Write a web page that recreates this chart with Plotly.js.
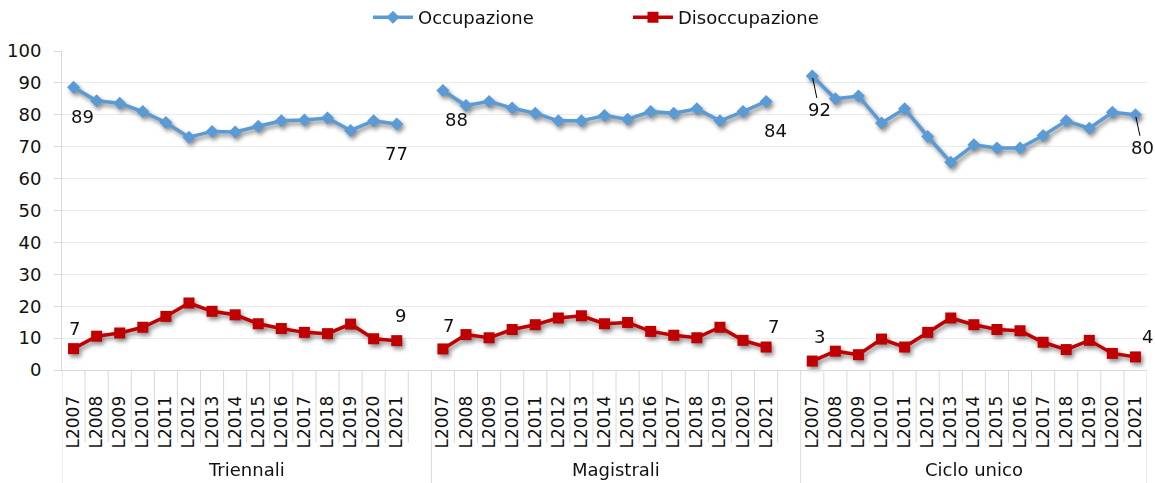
<!DOCTYPE html>
<html>
<head>
<meta charset="utf-8">
<script src="https://cdn.plot.ly/plotly-3.0.1.min.js"></script>
<style>
  html, body { margin: 0; padding: 0; background: #fff; }
  #chart { width: 1155px; height: 483px; }
  .js-plotly-plot .scatterlayer .trace { filter: drop-shadow(2px 3px 2px rgba(0,0,0,0.45)); }
</style>
</head>
<body>
<div id="chart"></div>
<script>
// ---- data ----
var groups = ['Triennali', 'Magistrali', 'Ciclo unico'];
var years = ['L2007','L2008','L2009','L2010','L2011','L2012','L2013','L2014','L2015','L2016','L2017','L2018','L2019','L2020','L2021'];

var occTriennali  = [88.6, 84.4, 83.6, 81.0, 77.6, 73.0, 74.8, 74.6, 76.4, 78.1, 78.4, 79.0, 75.1, 78.1, 77.1];
var occMagistrali = [87.6, 82.9, 84.2, 82.1, 80.5, 78.1, 78.1, 79.8, 78.6, 81.0, 80.5, 81.9, 78.1, 81.0, 84.2];
var occCiclo      = [92.2, 85.0, 85.9, 77.4, 81.9, 73.2, 65.1, 70.6, 69.6, 69.6, 73.5, 78.1, 75.8, 80.8, 80.0];

var disTriennali  = [6.7, 10.6, 11.6, 13.4, 16.8, 21.0, 18.4, 17.3, 14.5, 13.0, 11.8, 11.4, 14.4, 9.8, 9.2];
var disMagistrali = [6.6, 11.1, 10.1, 12.7, 14.2, 16.3, 17.0, 14.5, 14.9, 12.1, 10.9, 10.1, 13.4, 9.3, 7.2];
var disCiclo      = [2.8, 5.9, 4.8, 9.7, 7.2, 11.8, 16.3, 14.2, 12.7, 12.3, 8.7, 6.4, 9.3, 5.2, 4.1];

var seriesNames = ['Occupazione', 'Disoccupazione'];

// ---- styles ----
var FONT = 'DejaVu Sans, sans-serif';
var TXT = '#111111';
var AXC = '#d9d9d9';
var colors = ['#5B9BD5', '#C00000'];
var symbols = ['diamond', 'square'];
var msize = [10, 11];

// label offsets [dx, dy(px, down positive), leader]
var labelStyle = [
  [ [[9,29,false],[0,29,false]], [[14,29,false],[9,29,false]], [[7,34,true],[7,33,true]] ],
  [ [[1,-20,false],[4,-25,false]], [[6,-23,false],[7,-21,false]], [[7,-25,false],[12,-20,false]] ]
];

// ---- build categories ----
var occ = [occTriennali, occMagistrali, occCiclo];
var dis = [disTriennali, disMagistrali, disCiclo];
var cats = [], tickText = [], occY = [], disY = [];
var groupStart = [], groupEnd = [];
groups.forEach(function (g, gi) {
  groupStart.push(cats.length);
  years.forEach(function (yr, yi) {
    cats.push(g + ' ' + yr);
    tickText.push(yr);
    occY.push(occ[gi][yi]);
    disY.push(dis[gi][yi]);
  });
  if (gi < groups.length - 1) {
    cats.push(g + ' gap');
    tickText.push('');
    occY.push(null);
    disY.push(null);
  }
  groupEnd.push(cats.length);
});

var allY = [occY, disY];
var traces = seriesNames.map(function (nm, si) {
  return {
    type: 'scatter', mode: 'lines+markers', name: nm,
    x: cats, y: allY[si], connectgaps: false,
    line: { color: colors[si], width: 3.5 },
    marker: { color: colors[si], symbol: symbols[si], size: msize[si] },
    cliponaxis: false
  };
});

// ---- annotations ----
var annotations = [];
var seriesData = [occ, dis];
groups.forEach(function (g, gi) {
  [0, years.length - 1].forEach(function (yi, k) {
    seriesData.forEach(function (sd, si) {
      var st = labelStyle[si][gi][k];
      var v = sd[gi][yi];
      var a = {
        x: g + ' ' + years[yi], y: v, xref: 'x', yref: 'y',
        text: String(Math.round(v)),
        font: { family: FONT, size: 18, color: TXT }
      };
      if (st[2]) {
        a.showarrow = true; a.arrowhead = 0; a.arrowwidth = 1; a.arrowcolor = '#000';
        a.ax = st[0]; a.ay = st[1]; a.standoff = 2;
      } else {
        a.showarrow = false; a.xshift = st[0]; a.yshift = -st[1];
      }
      annotations.push(a);
    });
  });
  annotations.push({
    x: (groupStart[gi] + groupEnd[gi] - 1) / 2, y: -0.311, xref: 'x', yref: 'paper',
    text: g, showarrow: false, yanchor: 'middle',
    font: { family: FONT, size: 18, color: TXT }
  });
});

// ---- separator shapes ----
var shapes = [];
var groupBounds = [0].concat(groupEnd);
for (var b = 0; b <= cats.length; b++) {
  var isGroup = groupBounds.indexOf(b) >= 0;
  shapes.push({
    type: 'line', xref: 'x', yref: 'paper',
    x0: b - 0.5, x1: b - 0.5, y0: 0, y1: isGroup ? -0.36 : -0.228,
    line: { color: AXC, width: 1 }
  });
}

var layout = {
  width: 1155, height: 483,
  margin: { l: 62, r: 8, t: 51, b: 112.5, pad: 0, autoexpand: false },
  paper_bgcolor: '#fff', plot_bgcolor: '#fff',
  font: { family: FONT, size: 18, color: TXT },
  showlegend: true,
  legend: {
    orientation: 'h', x: 0.282, xanchor: 'left', y: 1.1625, yanchor: 'top',
    font: { family: FONT, size: 18, color: TXT },
    entrywidth: 205, itemwidth: 40, bgcolor: 'rgba(0,0,0,0)'
  },
  xaxis: {
    type: 'category', categoryorder: 'array', categoryarray: cats,
    range: [-0.5, cats.length - 0.5], automargin: false,
    tickmode: 'array', tickvals: cats, ticktext: tickText,
    tickangle: -90, ticks: '', ticklabelstandoff: 18,
    tickfont: { family: FONT, size: 17, color: TXT },
    showgrid: false, zeroline: false,
    showline: true, linecolor: AXC, linewidth: 1
  },
  yaxis: {
    range: [0, 100], dtick: 10, tick0: 0, automargin: false,
    ticks: 'outside', ticklen: 7, tickcolor: AXC, ticklabelstandoff: 9,
    tickfont: { family: FONT, size: 18, color: TXT },
    showgrid: true, gridcolor: '#ebebeb', gridwidth: 1,
    zeroline: false, showline: true, linecolor: AXC, linewidth: 1
  },
  annotations: annotations,
  shapes: shapes
};

Plotly.newPlot('chart', traces, layout, { displayModeBar: false, staticPlot: true });
</script>
</body>
</html>
